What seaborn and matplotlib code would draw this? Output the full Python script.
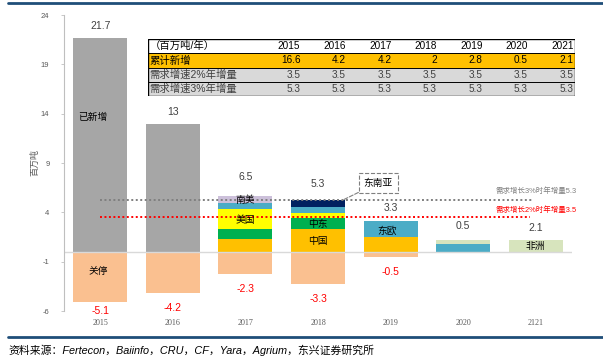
import matplotlib
matplotlib.use("Agg")
import matplotlib.pyplot as plt
import matplotlib.patches as mpatches
import matplotlib.lines as mlines
import numpy as np
import seaborn as sns

# ---------------- data ----------------
years = ['2015', '2016', '2017', '2018', '2019', '2020', '2121']
added = [21.7, 13.0, 0, 0, 0, 0, 0]            # 已新增
china = [0, 0, 1.3, 2.3, 1.5, 0, 0]             # 中国
mideast = [0, 0, 1.0, 1.1, 0, 0, 0]             # 中东
usa = [0, 0, 2.05, 0.55, 0, 0, 0]               # 美国
east_europe = [0, 0, 0.6, 0.6, 1.65, 0.8, 0]    # 东欧
south_america = [0, 0, 0.7, 0, 0, 0, 0]         # 南美
se_asia = [0, 0, 0, 0.75, 0, 0, 0]              # 东南亚
africa = [0, 0, 0, 0, 0, 0.4, 1.2]              # 非洲
closures = [-5.1, -4.2, -2.3, -3.3, -0.5, 0, 0]  # 关停

top_labels = ['21.7', '13', '6.5', '5.3', '3.3', '0.5', '2.1']
neg_labels = ['-5.1', '-4.2', '-2.3', '-3.3', '-0.5', '', '']

demand_2pct = 3.5
demand_3pct = 5.3
demand_2pct_text = '需求增长2%时年增量3.5'
demand_3pct_text = '需求增长3%时年增量5.3'

table_header = ['（百万吨/年）', '2015', '2016', '2017', '2018', '2019', '2020', '2021']
table_row_names = ['累计新增', '需求增速2%年增量', '需求增速3%年增量']
table_cumulative = ['16.6', '4.2', '4.2', '2', '2.8', '0.5', '2.1']
table_demand_2 = ['3.5', '3.5', '3.5', '3.5', '3.5', '3.5', '3.5']
table_demand_3 = ['5.3', '5.3', '5.3', '5.3', '5.3', '5.3', '5.3']

y_ticks = [-6, -1, 4, 9, 14, 19, 24]
y_label = '百万吨'
source_text = '资料来源：Fertecon，Baiinfo，CRU，CF，Yara，Agrium，东兴证券研究所'

# label gaps above the bar tops (layout only)
label_gap = [1.2, 1.2, 1.95, 1.55, 1.3, 1.4, 1.2]

# ---------------- style ----------------
sns.set_theme(style='white')
plt.rcParams['font.family'] = ['Liberation Sans', 'Noto Sans CJK SC', 'DejaVu Sans']
plt.rcParams['axes.unicode_minus'] = False

W, H = 603, 357
fig = plt.figure(figsize=(W / 100, H / 100), dpi=100)
ax = fig.add_axes([64 / W, 1 - 311 / H, (572 - 64) / W, (311 - 15) / H])

segments = [
    ('已新增', added, '#A6A6A6'),
    ('中国', china, '#FFC000'),
    ('中东', mideast, '#00B050'),
    ('美国', usa, '#FFFF00'),
    ('东欧', east_europe, '#4BACC6'),
    ('南美', south_america, '#CCC0DA'),
    ('东南亚', se_asia, '#002060'),
    ('非洲', africa, '#D7E4BD'),
]

bottom = np.zeros(len(years))
seg_bottoms = {}
for name, vals, col in segments:
    vals = np.asarray(vals, dtype=float)
    seg_bottoms[name] = bottom.copy()
    sns.barplot(x=years, y=vals, bottom=bottom, order=years, color=col,
                saturation=1, width=0.745, errorbar=None, linewidth=0, ax=ax)
    bottom = bottom + vals
tops = bottom.copy()

sns.barplot(x=years, y=closures, order=years, color='#FAC090', saturation=1,
            width=0.745, errorbar=None, linewidth=0, ax=ax)

ax.set_xlim(-0.5, len(years) - 0.5)
ax.set_ylim(-6, 24)
ax.set_yticks(y_ticks)
ax.set_yticklabels([str(t) for t in y_ticks])
ax.set_xlabel('')
ax.set_ylabel('')

# zero line
ax.axhline(0, color='#D9D9D9', lw=1.0, zorder=1)

# demand lines
ax.plot([0, 5.95], [demand_3pct, demand_3pct], color='#7F7F7F', lw=1.4,
        linestyle=(0, (1, 1.3)), zorder=5)
ax.plot([0, 5.92], [demand_2pct, demand_2pct], color='#FF0000', lw=1.4,
        linestyle=(0, (1, 1.3)), zorder=5)
ax.text(6.57, demand_3pct + 0.8, demand_3pct_text, ha='right', va='center',
        fontsize=5.4, color='#808080', zorder=6, clip_on=False)
ax.text(6.57, demand_2pct + 0.7, demand_2pct_text, ha='right', va='center',
        fontsize=5.4, color='#FF0000', zorder=6, clip_on=False)

# labels above / below
for i, lab in enumerate(top_labels):
    ax.text(i, tops[i] + label_gap[i], lab, ha='center', va='center', fontsize=7.5,
            color='#404040')
for i, lab in enumerate(neg_labels):
    if lab:
        y = max(closures[i] - 1.5, -5.95)
        ax.text(i, y, lab, ha='center', va='center', fontsize=7.5, color='#FF0000')

# in-bar texts
seg_vals = dict((n, v) for n, v, c in segments)
def mid(name, i):
    return seg_bottoms[name][i] + seg_vals[name][i] / 2

ax.text(-0.1, 13.7, '已新增', ha='center', va='center', fontsize=7, color='black')
ax.text(-0.03, closures[1] / 2 + 0.2, '关停', ha='center', va='center', fontsize=7, color='black')
ax.text(2, mid('南美', 2), '南美', ha='center', va='center', fontsize=7, color='black', zorder=6)
ax.text(2, mid('美国', 2) - 0.15, '美国', ha='center', va='center', fontsize=7, color='black', zorder=6)
ax.text(3, mid('中东', 3), '中东', ha='center', va='center', fontsize=7, color='black')
ax.text(3, mid('中国', 3) - 0.1, '中国', ha='center', va='center', fontsize=7, color='black')
ax.text(3.95, mid('东欧', 4) - 0.2, '东欧', ha='center', va='center', fontsize=7, color='black')
ax.text(6, mid('非洲', 6), '非洲', ha='center', va='center', fontsize=7, color='black')

ax.annotate('东南亚', xy=(3.33, 5.2), xytext=(3.83, 7.0), ha='center', va='center',
            fontsize=7, color='black',
            bbox=dict(boxstyle='square,pad=0.5', fc='white', ec='#7F7F7F', ls='--', lw=0.8),
            arrowprops=dict(arrowstyle='-', ls='--', color='#7F7F7F', lw=0.8,
                            shrinkA=0, shrinkB=0), zorder=7)

# axes styling
sns.despine(ax=ax, left=False, bottom=True, right=True, top=True)
ax.spines['left'].set_color('#BFBFBF')
ax.spines['left'].set_linewidth(0.8)
ax.tick_params(axis='y', length=2.5, width=0.6, color='#BFBFBF', pad=8,
               labelsize=5.5, labelcolor='#595959', left=True)
ax.tick_params(axis='x', length=0, pad=6, labelsize=5.8, labelcolor='#595959')
for t in ax.get_xticklabels():
    t.set_family(['Liberation Serif', 'DejaVu Serif'])
fig.text(35 / W, 1 - 163 / H, y_label, rotation=90, ha='center', va='center',
         fontsize=6.5, color='#595959')

# ---------------- table ----------------
tx0, tx1, ty0, ty1 = 148, 575, 39.3, 95.7
tax = fig.add_axes([tx0 / W, 1 - ty1 / H, (tx1 - tx0) / W, (ty1 - ty0) / H])
tax.set_xlim(0, tx1 - tx0)
tax.set_ylim(ty1 - ty0, 0)
tax.axis('off')
first_w = 108.4
col_w = (tx1 - tx0 - first_w) / 7
row_edges = [0, 14.0, 28.4, 43.0, ty1 - ty0]
row_colors = ['white', '#FFC000', '#D9D9D9', '#D9D9D9']
rows = [table_header,
        [table_row_names[0]] + table_cumulative,
        [table_row_names[1]] + table_demand_2,
        [table_row_names[2]] + table_demand_3]
for r, cells in enumerate(rows):
    y0, y1 = row_edges[r], row_edges[r + 1]
    tax.add_patch(mpatches.Rectangle((0, y0), tx1 - tx0, y1 - y0, facecolor=row_colors[r],
                                     edgecolor='none'))
    ym = (y0 + y1) / 2
    tcol = 'black' if r < 2 else '#404040'
    tax.text(1.5, ym, cells[0], ha='left', va='center', fontsize=7.5, color=tcol)
    for c in range(1, 8):
        xr = first_w + c * col_w - 1.5
        tax.text(xr, ym, cells[c], ha='right', va='center', fontsize=7.2, color=tcol,
                 family=['Liberation Sans Narrow', 'Liberation Sans'])
for e in row_edges[1:-1]:
    tax.plot([0, tx1 - tx0], [e, e], color='black', lw=0.7)
tax.add_patch(mpatches.Rectangle((0, 0), tx1 - tx0, ty1 - ty0, fill=False,
                                 edgecolor='black', lw=1.0))

# ---------------- frame lines & source ----------------
fig.add_artist(mlines.Line2D([8 / W, 1.0], [1 - 2.7 / H, 1 - 2.7 / H], color='#1F4E79', lw=2.0))
fig.add_artist(mlines.Line2D([8 / W, 1.0], [1 - 337.3 / H, 1 - 337.3 / H], color='#1F4E79', lw=2.0))
fig.text(8 / W, 1 - 350 / H, source_text, ha='left', va='center', fontsize=7.8,
         style='italic', color='black')

fig.savefig('out.png', dpi=100)
